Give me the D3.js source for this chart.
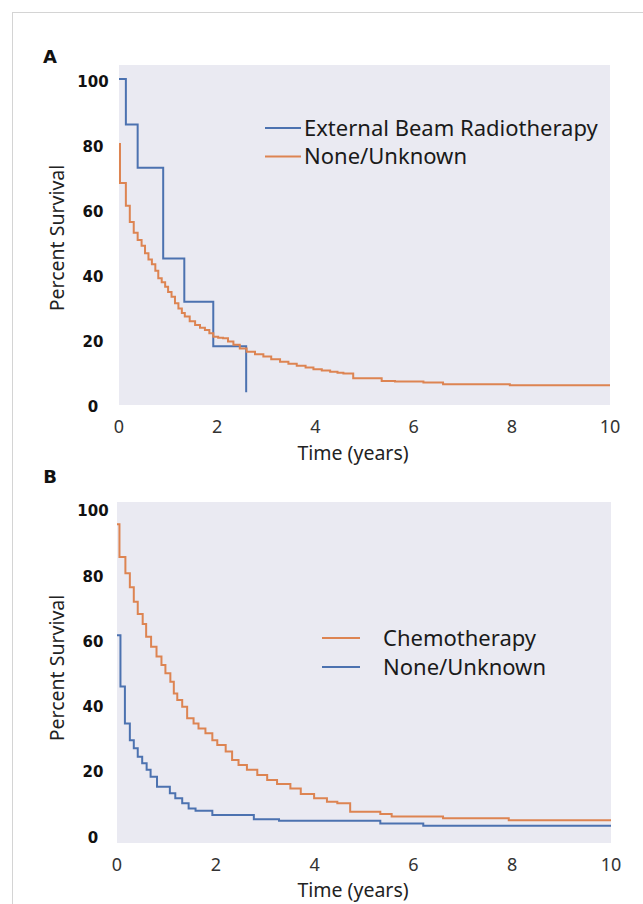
<!DOCTYPE html>
<html lang="en">
<head>
  <meta charset="UTF-8">
  <title>Percent Survival</title>
  <script src="https://d3js.org/d3.v7.min.js"></script>
  <style>
    body { margin: 0; background: #fff; }
    .tick-x { font: 18px "Noto Sans", sans-serif; fill: #333; }
    .tick-y { font: bold 15px "DejaVu Sans", sans-serif; fill: #111; }
    .axis-title { font: 19.5px "Noto Sans", sans-serif; fill: #222; }
    .legend { font: 22px "Noto Sans", sans-serif; fill: #1a1a1a; }
    .panel-label { font: bold 18px "DejaVu Sans", sans-serif; fill: #111; }
    .km { fill: none; stroke-width: 2px; }
  </style>
</head>
<body>
  <svg width="643" height="904"></svg>

  <script>
    const xTicks = [0, 2, 4, 6, 8, 10];
    const yTicks = [0, 20, 40, 60, 80, 100];

    // panel A
    const aEbrtTime = [0, 0.14, 0.38, 0.9, 1.33, 1.92, 2.59];
    const aEbrtSurv = [100, 86, 72.7, 44.8, 31.5, 17.8, 3.6];
    const aNoneTime = [0, 0.02, 0.14, 0.22, 0.3, 0.38, 0.46, 0.53, 0.6, 0.67, 0.74, 0.8, 0.87, 0.94, 1.0, 1.07,
      1.14, 1.21, 1.28, 1.34, 1.44, 1.55, 1.65, 1.75, 1.84, 1.92, 2.02, 2.12, 2.22, 2.33, 2.46, 2.6, 2.77, 2.94,
      3.1, 3.28, 3.45, 3.62, 3.8, 3.96, 4.13, 4.3, 4.45, 4.57, 4.77, 5.35, 5.62, 6.2, 6.6, 7.96, 10];
    const aNoneSurv = [80, 68, 61, 56, 52.7, 50.5, 48.7, 46.4, 44.5, 43, 41, 38.7, 37.5, 36.1, 34.5, 33,
      31, 29.4, 28, 26.9, 25.5, 24.3, 23.5, 22.8, 21.8, 20.7, 20.4, 20.2, 19.2, 18.2, 17.1, 16.1, 15.3, 14.6,
      13.8, 13, 12.4, 11.8, 11.2, 10.7, 10.3, 9.9, 9.6, 9.4, 7.9, 7.1, 6.9, 6.6, 6.1, 5.8, 5.8];

    // panel B
    const bChemoTime = [0, 0.05, 0.17, 0.26, 0.34, 0.42, 0.52, 0.59, 0.69, 0.8, 0.9, 0.98, 1.08, 1.15, 1.22,
      1.32, 1.42, 1.55, 1.65, 1.79, 1.93, 2.03, 2.2, 2.33, 2.46, 2.63, 2.84, 3.04, 3.24, 3.51, 3.72, 3.99,
      4.25, 4.46, 4.72, 5.33, 5.56, 6.6, 7.93, 10];
    const bChemoSurv = [95, 85, 80, 75.7, 71.3, 67.5, 64.5, 60.6, 57.5, 54.5, 51.9, 49.4, 46.8, 43.2, 41.2,
      39.1, 35.6, 34, 32.5, 31, 28.9, 27.4, 25.4, 22.8, 21.3, 19.8, 18.2, 16.7, 15.5, 14.1, 12.4, 11.1,
      10, 9.6, 7, 6.3, 5.5, 5, 4.4, 4.4];
    const bNoneTime = [0, 0.07, 0.16, 0.26, 0.34, 0.42, 0.51, 0.6, 0.68, 0.81, 1.07, 1.18, 1.32, 1.45, 1.59,
      1.93, 2.77, 3.28, 5.33, 6.2, 10];
    const bNoneSurv = [61, 45.3, 34, 28.9, 26.4, 23.8, 21.8, 19.8, 17.7, 14.6, 12.6, 11.1, 9.6, 8, 7.3,
      6, 4.7, 4.2, 3.4, 2.7, 2.7];

    const blue = "#4c72b0";
    const orange = "#dd8452";

    const svg = d3.select("svg");

    svg.append("rect")
      .attr("x", 12.5).attr("y", 12.5)
      .attr("width", 700).attr("height", 1000)
      .attr("fill", "none").attr("stroke", "#d4d4d4");

    const panels = [
      {
        label: "A", labelY: 63,
        left: 119, right: 610, top: 65, bottom: 405, y0: 404, y100: 79,
        tickLabelY: 427, titleY: 453, ytitleY: 238,
        series: [
          { name: "External Beam Radiotherapy", time: aEbrtTime, surv: aEbrtSurv, color: blue },
          { name: "None/Unknown", time: aNoneTime, surv: aNoneSurv, color: orange }
        ],
        legend: { x1: 265, x2: 301, tx: 304, y: 128, gap: 28.5 }
      },
      {
        label: "B", labelY: 483,
        left: 117, right: 611, top: 502, bottom: 843, y0: 834.5, y100: 508,
        tickLabelY: 865, titleY: 890, ytitleY: 668,
        series: [
          { name: "Chemotherapy", time: bChemoTime, surv: bChemoSurv, color: orange },
          { name: "None/Unknown", time: bNoneTime, surv: bNoneSurv, color: blue }
        ],
        legend: { x1: 322, x2: 360, tx: 383, y: 638, gap: 29 }
      }
    ];

    panels.forEach(p => {
      const x = d3.scaleLinear().domain([0, 10]).range([p.left, p.right]);
      const y = d3.scaleLinear().domain([0, 100]).range([p.y0, p.y100]);
      const g = svg.append("g");

      g.append("rect")
        .attr("x", p.left).attr("y", p.top)
        .attr("width", p.right - p.left).attr("height", p.bottom - p.top)
        .attr("fill", "#eaeaf2");

      g.append("text").attr("class", "panel-label")
        .attr("x", 50).attr("y", p.labelY)
        .attr("text-anchor", "middle")
        .text(p.label);

      g.selectAll(".tick-x")
        .data(xTicks)
        .join("text")
        .attr("class", "tick-x")
        .attr("x", d => x(d))
        .attr("y", p.tickLabelY)
        .attr("dy", "0.35em")
        .attr("text-anchor", "middle")
        .text(d => d);

      g.selectAll(".tick-y")
        .data(yTicks)
        .join("text")
        .attr("class", "tick-y")
        .attr("x", 93)
        .attr("y", d => y(d) + 3)
        .attr("dy", "0.35em")
        .attr("text-anchor", "middle")
        .text(d => d);

      g.append("text").attr("class", "axis-title")
        .attr("x", 353).attr("y", p.titleY)
        .attr("dy", "0.35em")
        .attr("text-anchor", "middle")
        .text("Time (years)");

      g.append("text").attr("class", "axis-title")
        .attr("transform", `translate(57, ${p.ytitleY}) rotate(-90)`)
        .attr("dy", "0.35em")
        .attr("text-anchor", "middle")
        .text("Percent Survival");

      const line = d3.line()
        .x(d => x(d[0]))
        .y(d => y(d[1]))
        .curve(d3.curveStepAfter);

      p.series.forEach(s => {
        g.append("path")
          .attr("class", "km")
          .attr("stroke", s.color)
          .attr("d", line(d3.zip(s.time, s.surv)));
      });

      const lg = g.append("g");
      p.series.forEach((s, i) => {
        const ly = p.legend.y + i * p.legend.gap;
        lg.append("line")
          .attr("x1", p.legend.x1).attr("x2", p.legend.x2)
          .attr("y1", ly).attr("y2", ly)
          .attr("stroke", s.color).attr("stroke-width", 2);
        lg.append("text").attr("class", "legend")
          .attr("x", p.legend.tx).attr("y", ly)
          .attr("dy", "0.35em")
          .text(s.name);
      });
    });
  </script>
</body>
</html>
